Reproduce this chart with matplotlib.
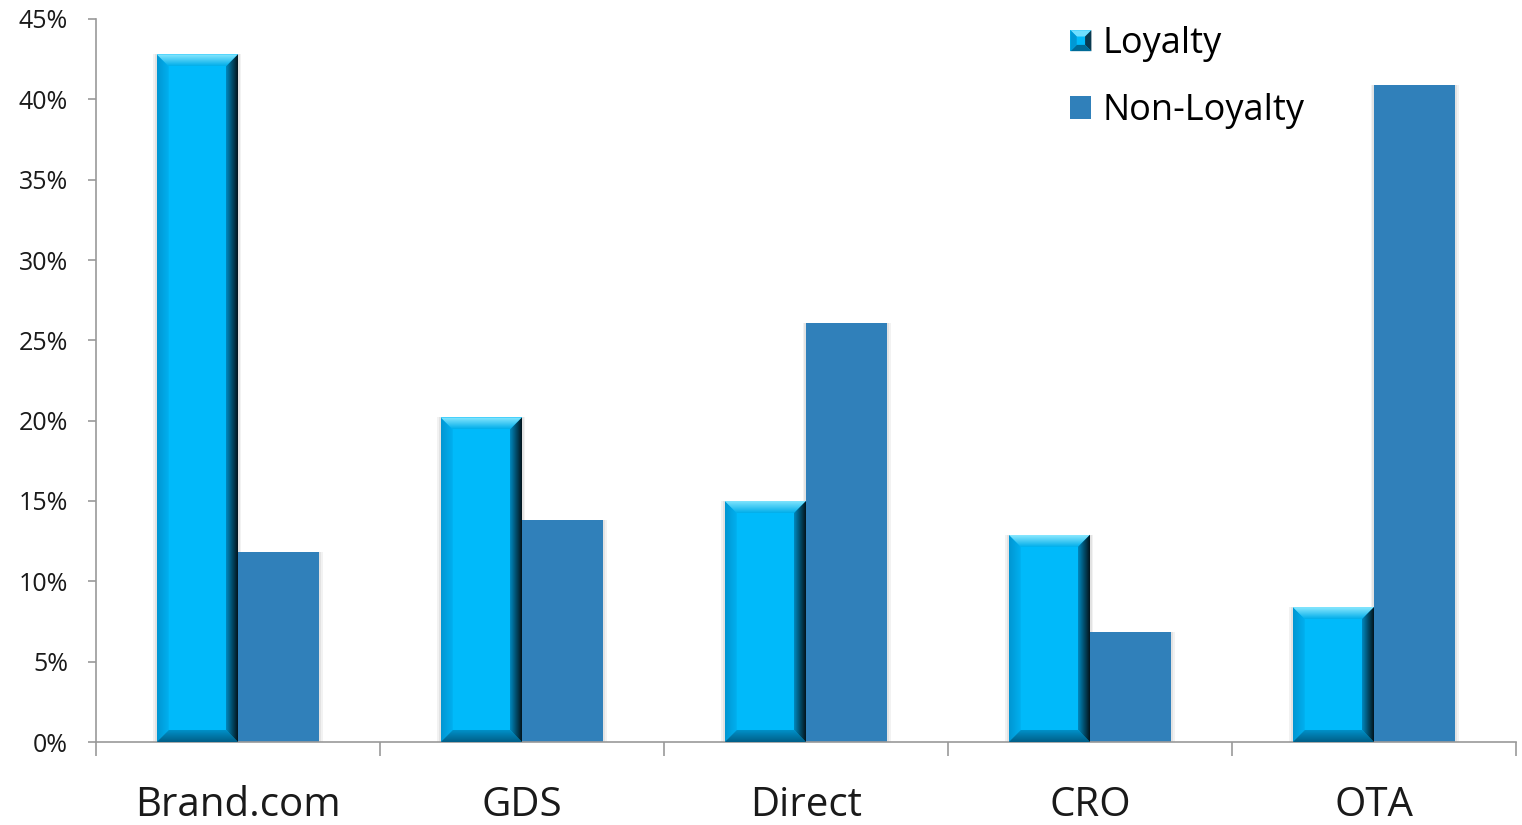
import numpy as np
import matplotlib.pyplot as plt
from matplotlib.patches import Rectangle, Polygon
from matplotlib.colors import LinearSegmentedColormap
from matplotlib.legend_handler import HandlerBase
from matplotlib.ticker import FuncFormatter, FixedLocator

plt.rcParams['font.family'] = ['Open Sans', 'DejaVu Sans']

# data (percent)
channels = ['Brand.com', 'GDS', 'Direct', 'CRO', 'OTA']
loyalty = [42.8, 20.2, 15.0, 12.9, 8.4]
non_loyalty = [11.8, 13.8, 26.1, 6.85, 40.9]

LOY_COLOR = '#00BAFA'
NON_COLOR = '#3080BA'
AXIS_GRAY = '#999999'

fig = plt.figure(figsize=(15.22, 8.25), dpi=100)
ax = fig.add_axes([96 / 1522, 1 - 742 / 825, (1516 - 96) / 1522, (742 - 19) / 825])

x = np.arange(len(channels))
w = 0.286
ax.set_xlim(-0.5, len(channels) - 0.5)
ax.set_ylim(0, 45)

bars_l = ax.bar(x - w / 2, loyalty, w, color=LOY_COLOR, zorder=2, label='Loyalty')
bars_n = ax.bar(x + w / 2, non_loyalty, w, color=NON_COLOR, zorder=2, label='Non-Loyalty')

# faint soft shadow beside bars
for b in list(bars_l) + list(bars_n):
    for k, a in [(0.012, 0.05), (0.006, 0.06)]:
        sh = Rectangle((b.get_x() - k, 0), b.get_width() + 2 * k, b.get_height(),
                       color='black', alpha=a, lw=0, zorder=1)
        ax.add_patch(sh)

# bevel size in data units (about 12 px)
px_x = len(channels) / 1420.0
px_y = 45 / 723.0
dx, dy = 12 * px_x, 12 * px_y


def grad_fill(poly_pts, c_from, c_to, horizontal):
    cmap = LinearSegmentedColormap.from_list('g', [c_from, c_to])
    poly = Polygon(poly_pts, closed=True, facecolor='none', edgecolor='none')
    ax.add_patch(poly)
    xs = [p[0] for p in poly_pts]
    ys = [p[1] for p in poly_pts]
    g = np.linspace(0, 1, 64)
    img = g[np.newaxis, :] if horizontal else g[:, np.newaxis]
    im = ax.imshow(img, cmap=cmap, extent=(min(xs), max(xs), min(ys), max(ys)),
                   origin='lower', aspect='auto', zorder=3, interpolation='bilinear')
    im.set_clip_path(poly)


for b in bars_l:
    x0, x1 = b.get_x(), b.get_x() + b.get_width()
    y0, y1 = 0, b.get_height()
    # left facet
    grad_fill([(x0, y0), (x0, y1), (x0 + dx, y1 - dy), (x0 + dx, y0 + dy)],
              '#0096D2', '#00B0F0', True)
    # top facet: lighter band
    grad_fill([(x0, y1), (x1, y1), (x1 - dx, y1 - dy), (x0 + dx, y1 - dy)],
              '#00AEEA', '#8AE8FF', False)
    # bottom facet
    grad_fill([(x0, y0), (x1, y0), (x1 - dx, y0 + dy), (x0 + dx, y0 + dy)],
              '#005F88', '#0090C8', False)
    # right facet: dark edge
    grad_fill([(x1 - dx, y1 - dy), (x1, y1), (x1, y0), (x1 - dx, y0 + dy)],
              '#0088BE', '#03141C', True)

ax.set_xlim(-0.5, len(channels) - 0.5)
ax.set_ylim(0, 45)

# axes styling
for s in ['top', 'right']:
    ax.spines[s].set_visible(False)
for s in ['left', 'bottom']:
    ax.spines[s].set_color(AXIS_GRAY)
    ax.spines[s].set_linewidth(1.2)

ax.set_yticks(np.arange(0, 46, 5))
ax.yaxis.set_major_formatter(FuncFormatter(lambda v, p: f'{int(v)}%'))
ax.tick_params(axis='y', length=6, width=1.2, color=AXIS_GRAY, labelsize=18,
               pad=14, labelcolor='#1a1a1a')

ax.set_xticks(x)
ax.set_xticklabels(channels)
ax.xaxis.set_minor_locator(FixedLocator(np.arange(-0.5, len(channels), 1.0)))
ax.tick_params(axis='x', which='major', length=0, labelsize=29, pad=31, labelcolor='#1a1a1a')
ax.tick_params(axis='x', which='minor', length=10, width=1.2, color=AXIS_GRAY)


class BevelHandler(HandlerBase):
    def create_artists(self, legend, orig_handle, xdescent, ydescent, width, height, fontsize, trans):
        s = min(width, height)
        x0, y0 = -xdescent, -ydescent + (height - s) / 2
        x1, y1 = x0 + s, y0 + s
        d = s * 0.3
        arts = [
            Rectangle((x0, y0), s, s, facecolor=LOY_COLOR, edgecolor='none'),
            Polygon([(x0, y1), (x1, y1), (x1 - d, y1 - d), (x0 + d, y1 - d)], facecolor='#6FDFFF', edgecolor='none'),
            Polygon([(x1, y1), (x1, y0), (x1 - d, y0 + d), (x1 - d, y1 - d)], facecolor='#0A3A50', edgecolor='none'),
            Polygon([(x0, y0), (x1, y0), (x1 - d, y0 + d), (x0 + d, y0 + d)], facecolor='#006A96', edgecolor='none'),
            Polygon([(x0, y0), (x0, y1), (x0 + d, y1 - d), (x0 + d, y0 + d)], facecolor='#0098D4', edgecolor='none'),
        ]
        for a in arts:
            a.set_transform(trans)
        return arts


leg = ax.legend([bars_l[0], bars_n[0]], ['Loyalty', 'Non-Loyalty'],
                handler_map={bars_l[0]: BevelHandler()},
                loc='upper left', bbox_to_anchor=(1056 / 1522, 1 - 12 / 825),
                bbox_transform=fig.transFigure, frameon=False, fontsize=26,
                handlelength=0.58, handleheight=0.58, handletextpad=0.32,
                labelspacing=0.85, borderaxespad=0)

fig.savefig('out.png', dpi=100)
